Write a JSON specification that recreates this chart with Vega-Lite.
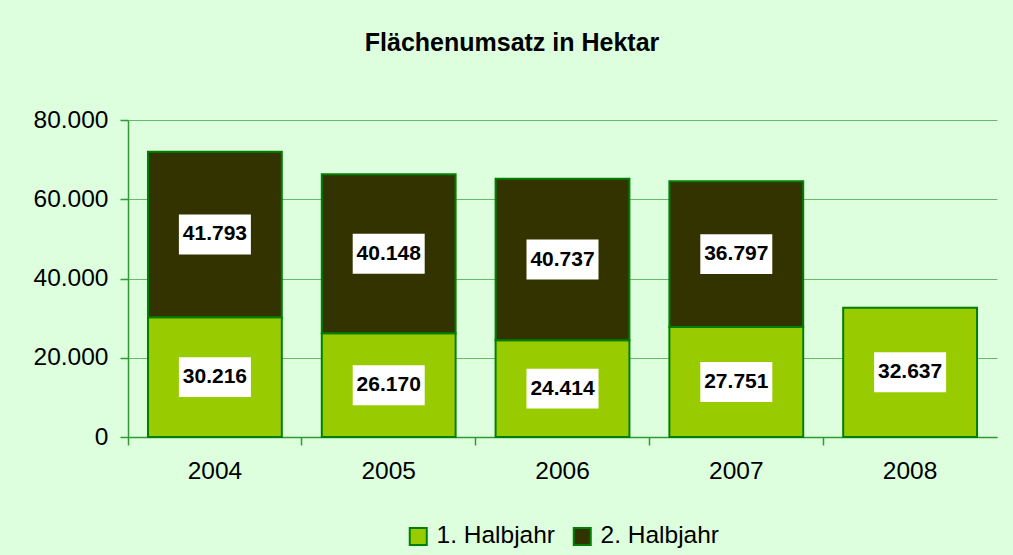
{
  "$schema": "https://vega.github.io/schema/vega-lite/v6.json",
  "width": 869,
  "height": 317,
  "autosize": {"type": "none"},
  "padding": {"left": 128, "top": 120, "right": 16, "bottom": 118},
  "background": "#DDFFDD",
  "title": {
    "text": "Flächenumsatz in Hektar",
    "font": "Liberation Sans",
    "fontSize": 25,
    "fontWeight": "bold",
    "color": "#000000",
    "anchor": "middle",
    "frame": "bounds",
    "dx": -3,
    "offset": 51
  },
  "data": {
    "values": [
      {"year": "2004", "half": "1. Halbjahr", "value": 30216},
      {"year": "2004", "half": "2. Halbjahr", "value": 41793},
      {"year": "2005", "half": "1. Halbjahr", "value": 26170},
      {"year": "2005", "half": "2. Halbjahr", "value": 40148},
      {"year": "2006", "half": "1. Halbjahr", "value": 24414},
      {"year": "2006", "half": "2. Halbjahr", "value": 40737},
      {"year": "2007", "half": "1. Halbjahr", "value": 27751},
      {"year": "2007", "half": "2. Halbjahr", "value": 36797},
      {"year": "2008", "half": "1. Halbjahr", "value": 32637}
    ]
  },
  "encoding": {
    "x": {
      "field": "year",
      "type": "ordinal",
      "scale": {"paddingInner": 0.23, "paddingOuter": 0.115},
      "axis": {
        "title": null,
        "labelAngle": 0,
        "labelFont": "Liberation Sans",
        "labelFontSize": 24.5,
        "labelColor": "#000000",
        "labelPadding": 14,
        "tickSize": 8,
        "bandPosition": -0.149,
        "domainColor": "#339933",
        "tickColor": "#339933",
        "domainWidth": 1.5,
        "tickWidth": 1.5,
        "grid": false
      }
    }
  },
  "layer": [
    {
      "mark": {"type": "bar", "stroke": "#008000", "strokeWidth": 2},
      "encoding": {
        "y": {
          "field": "value",
          "type": "quantitative",
          "stack": "zero",
          "scale": {"domain": [0, 80000]},
          "axis": {
            "title": null,
            "values": [0, 20000, 40000, 60000, 80000],
            "format": ",d",
            "labelFont": "Liberation Sans",
            "labelFontSize": 24.5,
            "labelColor": "#000000",
            "labelPadding": 12,
            "tickSize": 8,
            "domainColor": "#339933",
            "tickColor": "#339933",
            "domainWidth": 1.5,
            "tickWidth": 1.5,
            "gridColor": "#66BB66",
            "gridWidth": 1.2
          }
        },
        "color": {
          "field": "half",
          "type": "nominal",
          "scale": {"domain": ["1. Halbjahr", "2. Halbjahr"], "range": ["#99CC00", "#333300"]},
          "legend": {
            "title": null,
            "orient": "none",
            "direction": "horizontal",
            "legendX": 278,
            "legendY": 404,
            "padding": 0,
            "symbolType": "square",
            "symbolSize": 289,
            "symbolStrokeColor": "#008000",
            "symbolStrokeWidth": 2,
            "labelFont": "Liberation Sans",
            "labelFontSize": 24.5,
            "labelColor": "#000000",
            "labelOffset": 6,
            "columnPadding": 14
          }
        },
        "order": {"field": "half", "type": "ordinal"}
      }
    },
    {
      "mark": {
        "type": "point",
        "shape": "M-1,-0.555L1,-0.555L1,0.555L-1,0.555Z",
        "filled": true,
        "fill": "#FFFFFF",
        "opacity": 1,
        "strokeWidth": 0,
        "size": 5184
      },
      "encoding": {
        "y": {"field": "value", "type": "quantitative", "stack": "zero", "bandPosition": 0.5},
        "detail": {"field": "half"},
        "order": {"field": "half", "type": "ordinal"}
      }
    },
    {
      "mark": {
        "type": "text",
        "font": "Liberation Sans",
        "fontSize": 21,
        "fontWeight": "bold",
        "color": "#000000",
        "baseline": "middle",
        "align": "center"
      },
      "encoding": {
        "y": {"field": "value", "type": "quantitative", "stack": "zero", "bandPosition": 0.5},
        "detail": {"field": "half"},
        "order": {"field": "half", "type": "ordinal"},
        "text": {"field": "value", "type": "quantitative", "format": ","}
      }
    }
  ],
  "config": {
    "locale": {
      "number": {"decimal": ",", "thousands": ".", "grouping": [3], "currency": ["", " €"]}
    },
    "view": {"stroke": null}
  }
}
